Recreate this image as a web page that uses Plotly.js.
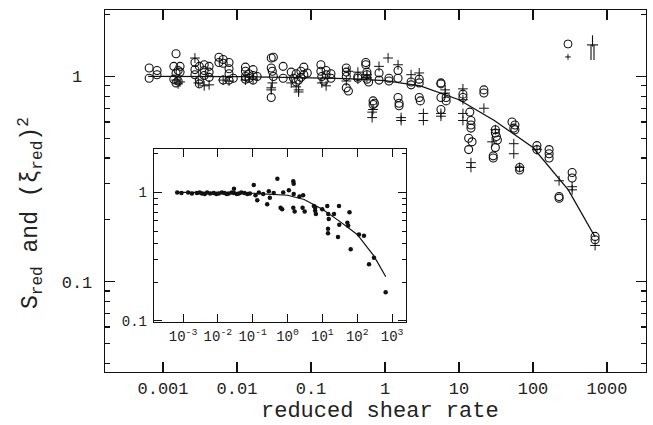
<!DOCTYPE html>
<html><head><meta charset="utf-8">
<script src="https://cdn.plot.ly/plotly-3.0.1.min.js"></script>
<style>html,body{margin:0;padding:0;background:#fff}#chart{width:653px;height:425px}</style>
</head><body><div id="chart"></div>
<script>
// ---- main panel: S_red (circles) and (xi_red)^2 (pluses) ----
const circX = [0.00065,0.00065,0.00083,0.00083,
 0.0015,0.0014,0.0016,0.0015,0.0017,0.0017,0.0014,0.0016,0.0015,
 0.0027,0.0027,0.0027,0.0031,0.0031,0.0036,0.0036,0.0036,0.0042,0.0042,0.0042,0.0031,
 0.0057,0.0057,0.0065,0.0065,0.0078,0.0078,0.0078,0.0065,0.0078,0.0089,
 0.013,0.013,0.013,0.013,0.0145,0.0145,0.0165,0.0165,0.0165,0.0187,
 0.029,0.031,0.029,0.030,0.031,0.029,0.042,0.042,
 0.054,0.058,0.063,0.063,0.068,0.073,0.073,0.080,0.080,0.089,
 0.136,0.136,0.14,0.15,0.16,0.16,0.186,0.186,
 0.30,0.30,0.30,0.30,0.32,
 0.43,0.43,0.55,0.55,0.57,0.57,0.57,0.60,
 0.69,0.69,0.72,0.83,0.83,1.13,1.13,
 1.5,1.5,1.5,1.55,1.55,2.25,2.25,2.9,2.9,2.9,3.0,
 5.7,5.7,5.7,5.7,6.7,6.7,
 11.3,11.3,14,14.5,14.5,14.5,13.5,15,13.5,
 21.7,21.7,31,31,32,33,31,29,29,
 52,57,55,57,66,66,113,113,165,165,165,225,225,338,338,690,690];
const circY = [1.10,0.98,1.07,1.02,
 1.29,1.12,1.07,1.04,1.12,1.05,0.97,0.95,0.93,
 1.17,1.08,1.02,1.12,0.96,1.14,1.07,1.01,1.12,1.05,0.99,0.92,
 1.24,1.17,1.21,1.16,1.17,1.09,1.03,0.96,0.96,0.98,
 1.11,1.06,1.00,0.97,1.03,0.98,1.08,1.01,0.96,1.00,
 1.23,1.24,1.10,1.06,1.00,0.79,1.12,0.98,
 1.05,0.98,1.03,0.94,0.96,1.06,0.99,1.02,1.11,1.04,
 1.14,1.06,1.00,0.95,1.02,1.07,1.03,0.98,
 1.10,1.05,1.00,0.88,0.85,
 1.00,0.98,1.17,1.14,1.05,1.02,0.97,0.94,
 0.76,0.73,0.74,1.04,0.96,0.98,0.95,
 1.07,0.98,0.79,0.74,0.72,0.94,0.91,0.97,0.93,0.79,0.76,
 0.93,0.92,0.79,0.69,0.79,0.76,
 0.82,0.79,0.67,0.61,0.58,0.56,0.50,0.48,0.44,
 0.86,0.83,0.55,0.53,0.51,0.49,0.45,0.41,0.40,
 0.60,0.58,0.56,0.55,0.36,0.35,0.46,0.44,0.44,0.42,0.40,0.26,0.255,0.34,0.32,0.166,0.16];
const plusX = [0.0015,0.0016,0.0017,
 0.0027,0.0030,0.0036,0.0042,0.0065,0.0078,0.013,0.0165,
 0.029,0.029,0.030,0.054,0.063,0.068,0.068,0.14,0.16,
 0.30,0.32,0.43,0.43,0.57,0.57,0.67,0.67,0.69,0.83,1.1,
 1.5,1.65,1.65,2.25,2.9,3.3,3.3,5.7,5.7,6.5,6.5,
 11.3,11.3,11.3,11.3,14.5,14.5,21.7,31,28,55,55,66,113,225,338,338,690];
const plusY = [0.96,0.92,0.94,
 1.23,0.93,0.90,0.91,0.96,0.95,0.96,0.97,
 0.88,0.86,0.93,0.93,0.89,0.86,0.84,0.93,0.90,
 0.95,1.06,1.05,0.97,0.99,1.02,0.67,0.63,0.69,1.12,1.23,
 1.14,0.63,0.61,1.02,1.04,0.66,0.61,0.66,0.64,0.83,0.86,
 0.87,0.77,0.66,0.61,0.38,0.36,0.70,0.55,0.48,0.47,0.42,0.36,0.44,0.31,0.29,0.28,0.15];
const fitX = [0.00063,0.001,0.01,0.1,0.3,1,3,10,30,100,300,690];
const fitY = [1.0,1.0,0.998,0.985,0.975,0.955,0.90,0.77,0.61,0.45,0.28,0.165];
// key glyphs at the top right
const keyCircX = [297], keyCircY = [1.44];
const keyDotX = [297], keyDotY = [1.245];
const keyStemX = [637], keyStemY = [1.49];
const keyBarTopX = [637], keyBarTopY = [1.425];
const keyBarX = [608, 667], keyBarY = [1.31, 1.31];

// ---- inset panel ----
const insX = [0.00068,0.0009,0.0014,0.0018,0.0025,0.0030,0.0035,0.0042,0.0049,0.006,0.0076,0.009,0.0106,0.013,0.0155,0.018,0.0205,0.025,0.029,0.029,0.035,0.04,0.047,0.058,0.07,0.083,
 0.107,0.12,0.135,0.15,0.2,0.26,0.29,0.31,0.51,0.40,0.63,0.70,0.75,1.09,1.46,1.5,1.5,1.46,1.6,
 2.2,2.8,2.7,3.1,5.7,6.2,6.2,6.5,9.9,13.8,14.7,15.2,14.5,14.5,21.5,30,30.5,28,
 52,55,60,65,112,156,218,302,655];
const insY = [1.0,0.99,1.0,0.98,0.99,1.0,0.98,0.97,1.0,0.98,0.99,0.97,0.98,1.0,0.99,0.97,0.98,1.0,0.99,1.07,0.97,0.98,1.0,0.99,0.97,0.98,
 1.14,0.95,0.87,1.0,0.97,0.81,1.02,0.91,1.28,0.99,0.76,0.74,1.0,1.04,1.22,1.17,0.97,0.76,0.71,
 0.93,0.95,0.76,0.71,0.785,0.76,0.72,0.68,0.74,0.785,0.68,0.62,0.52,0.48,0.68,0.785,0.56,0.45,
 0.58,0.55,0.70,0.36,0.47,0.46,0.275,0.31,0.167];
const insFitX = [0.0007,0.001,0.01,0.1,1,3,10,30,100,300,660];
const insFitY = [1.0,1.0,1.0,0.985,0.95,0.88,0.74,0.60,0.47,0.32,0.22];

const xMainTicks = [0.001,0.01,0.1,1,10,100,1000];
const xMainText = ["0.001","0.01","0.1","1","10","100","1000"];
const yMainTicks = [0.1,1];
const yMainText = ["0.1","1\u00a0"];
const xInsTicks = [0.001,0.01,0.1,1,10,100,1000];
const xInsText = ["10<sup>-3</sup>","10<sup>-2</sup>","10<sup>-1</sup>","10<sup>0</sup>","10<sup>1</sup>","10<sup>2</sup>","10<sup>3</sup>"];
const yInsTicks = [0.1,1];
const yInsText = ["0.1","1"];
const xTitle = 'reduced shear rate';
const yTitle = 'S<sub>red</sub> and (ξ<sub>red</sub>)<sup>2</sup>';

const ink = '#111';
const txt = '#222';
const traces = [
 {x: fitX, y: fitY, mode:'lines', line:{color:ink, width:1.3}, xaxis:'x', yaxis:'y'},
 {x: circX, y: circY, mode:'markers', marker:{symbol:'circle-open', size:8, color:ink, line:{width:1.1, color:ink}}, xaxis:'x', yaxis:'y'},
 {x: plusX, y: plusY, mode:'markers', marker:{symbol:'cross-thin-open', size:7, color:ink, line:{width:1, color:ink}}, xaxis:'x', yaxis:'y'},
 {x: keyCircX, y: keyCircY, mode:'markers', marker:{symbol:'circle-open', size:8, color:ink, line:{width:1, color:ink}}, xaxis:'x', yaxis:'y'},
 {x: keyDotX, y: keyDotY, mode:'markers', marker:{symbol:'cross-thin-open', size:4, color:ink, line:{width:1, color:ink}}, xaxis:'x', yaxis:'y'},
 {x: keyStemX, y: keyStemY, mode:'markers', marker:{symbol:'line-ns-open', size:8, color:ink, line:{width:1.1, color:ink}}, xaxis:'x', yaxis:'y'},
 {x: keyBarTopX, y: keyBarTopY, mode:'markers', marker:{symbol:'line-ew-open', size:8, color:ink, line:{width:1.1, color:ink}}, xaxis:'x', yaxis:'y'},
 {x: keyBarX, y: keyBarY, mode:'markers', marker:{symbol:'line-ns-open', size:11, color:ink, line:{width:1.1, color:ink}}, xaxis:'x', yaxis:'y'},
 {x: insFitX, y: insFitY, mode:'lines', line:{color:ink, width:1.2}, xaxis:'x2', yaxis:'y2'},
 {x: insX, y: insY, mode:'markers', marker:{symbol:'circle', size:4.5, color:ink}, xaxis:'x2', yaxis:'y2'}
];

const mono = 'Liberation Mono, Courier New, monospace';
const layout = {
 width:653, height:425, showlegend:false,
 paper_bgcolor:'#fff', plot_bgcolor:'#fff',
 margin:{l:105, r:7, t:10, b:53},
 font:{family:mono, color:txt},
 xaxis:{type:'log', range:[-3.784,3.527], tickmode:'array', tickvals:xMainTicks, ticktext:xMainText,
   ticks:'inside', ticklen:10, tickwidth:1.2, tickcolor:ink, showline:true, linecolor:ink, linewidth:1.3, mirror:'ticks',
   showgrid:false, zeroline:false, tickfont:{size:17, family:mono, color:txt}, ticklabelstandoff:0, automargin:false},
 yaxis:{type:'log', range:[-1.441,0.324], tickmode:'array', tickvals:yMainTicks, ticktext:yMainText,
   ticks:'inside', ticklen:10, tickwidth:1.2, tickcolor:ink, showline:true, linecolor:ink, linewidth:1.3, mirror:'ticks',
   minor:{ticks:'inside', ticklen:5, tickcolor:ink, dtick:'D1', showgrid:false},
   showgrid:false, zeroline:false, tickfont:{size:17, family:mono, color:txt}, ticklabelstandoff:8, automargin:false},
 xaxis2:{type:'log', domain:[0.0906,0.5564], anchor:'y2', range:[-3.833,3.40], tickmode:'array', tickvals:xInsTicks, ticktext:xInsText,
   ticks:'inside', ticklen:8, tickwidth:1, tickcolor:ink, showline:true, linecolor:ink, linewidth:1.2, mirror:'ticks',
   showgrid:false, zeroline:false, tickfont:{size:14, family:mono, color:txt}, ticklabelstandoff:1},
 yaxis2:{type:'log', domain:[0.138,0.616], anchor:'x2', range:[-1.01,0.338], tickmode:'array', tickvals:yInsTicks, ticktext:yInsText,
   ticks:'inside', ticklen:8, tickwidth:1, tickcolor:ink, showline:true, linecolor:ink, linewidth:1.2, mirror:'ticks',
   minor:{ticks:'inside', ticklen:4, tickcolor:ink, dtick:'D1', showgrid:false},
   showgrid:false, zeroline:false, tickfont:{size:14, family:mono, color:txt}, ticklabelstandoff:3},
 annotations:[
   {xref:'paper', yref:'paper', x:0.508, y:-0.108, xanchor:'center', yanchor:'middle', showarrow:false,
    text:xTitle, font:{size:22, family:mono, color:txt}},
   {xref:'paper', yref:'paper', x:-0.138, y:0.44, xanchor:'center', yanchor:'middle', showarrow:false, textangle:-90,
    text:yTitle, font:{size:23, family:mono, color:txt}}
 ]
};
Plotly.newPlot('chart', traces, layout, {staticPlot:true, displayModeBar:false});
</script></body></html>
